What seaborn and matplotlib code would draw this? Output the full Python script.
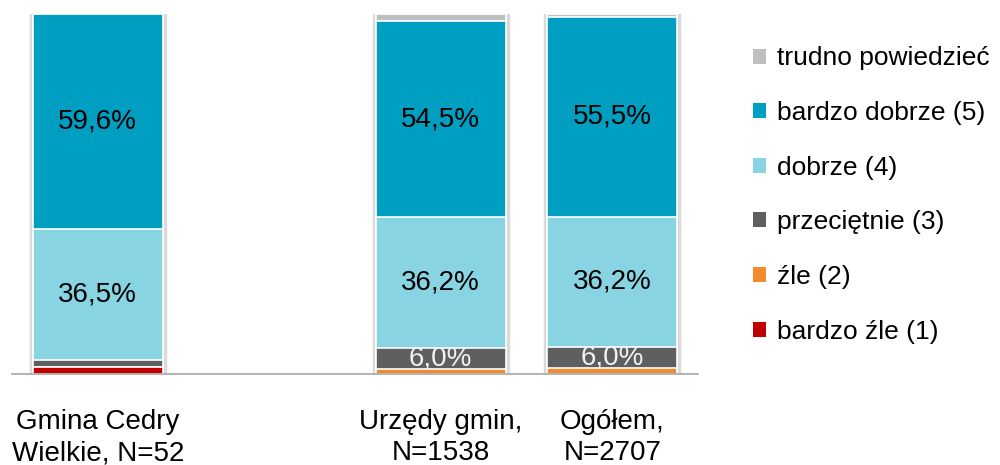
import matplotlib
matplotlib.use("Agg")
import matplotlib.pyplot as plt
from matplotlib.patches import Patch
import seaborn as sns
import pandas as pd
import numpy as np

categories = ["Gmina Cedry\nWielkie, N=52", "", "Urzędy gmin,\nN=1538", "Ogółem,\nN=2707"]
series_names = ["bardzo źle (1)", "źle (2)", "przeciętnie (3)", "dobrze (4)",
                "bardzo dobrze (5)", "trudno powiedzieć"]
bardzo_zle = [1.9, np.nan, 0.0, 0.0]
zle = [0.0, np.nan, 1.3, 1.5]
przecietnie = [1.9, np.nan, 6.0, 6.0]
dobrze = [36.5, np.nan, 36.2, 36.2]
bardzo_dobrze = [59.6, np.nan, 54.5, 55.5]
trudno = [0.0, np.nan, 2.0, 0.8]
colors = ["#C00000", "#F28A2E", "#5E5F61", "#88D4E2", "#009FC2", "#BFBFBF"]
text_colors = [None, None, "#F2F2F2", "black", "black", None]

sns.set_style("white")
plt.rcParams["font.family"] = ["Liberation Sans", "DejaVu Sans"]
plt.rcParams["text.color"] = "black"
plt.rcParams["xtick.color"] = "black"

fig = plt.figure(figsize=(10, 4.65), dpi=100)
ax = fig.add_axes([0.012, 0.196, 0.686, 0.774])

series = [bardzo_zle, zle, przecietnie, dobrze, bardzo_dobrze, trudno]
arr = np.array(series, dtype=float)
cum = np.cumsum(arr, axis=0)

# outer shadow
df_tot = pd.DataFrame({"cat": categories, "val": cum[-1]})
sns.barplot(data=df_tot, x="cat", y="val", order=categories, color="white",
            width=0.78, edgecolor="#DADADA", linewidth=2.5, ax=ax, saturation=1)

for i in range(len(series) - 1, -1, -1):
    df = pd.DataFrame({"cat": categories, "val": cum[i]})
    sns.barplot(data=df, x="cat", y="val", order=categories, color=colors[i],
                width=0.76, edgecolor="white", linewidth=1.2, ax=ax, saturation=1)

# value labels
for i, vals in enumerate(series):
    for j, v in enumerate(vals):
        if np.isnan(v) or v < 5:
            continue
        y = cum[i][j] - v / 2
        ax.text(j, y, f"{v:.1f}".replace(".", ",") + "%", ha="center", va="center",
                fontsize=20, color=text_colors[i])

ax.set_xlim(-0.5, 3.5)
ax.set_ylim(0, 100)
ax.set_xlabel("")
ax.set_ylabel("")
ax.set_yticks([])
for s in ["left", "right", "top"]:
    ax.spines[s].set_visible(False)
ax.spines["bottom"].set_color("#A6A6A6")
ax.spines["bottom"].set_linewidth(1.2)
ax.set_xticks(range(4))
ax.set_xticklabels(categories, fontsize=20, linespacing=1.28, color="black")
ax.tick_params(axis="x", which="major", length=0, pad=25)
ax.set_xticks(np.arange(-0.5, 4.0, 1.0), minor=True)
ax.tick_params(axis="x", which="minor", length=8, width=1.2, color="#A6A6A6", direction="out")
ax.patch.set_alpha(0)

handles = [Patch(facecolor=colors[i], edgecolor="none") for i in range(len(series) - 1, -1, -1)]
labels = [series_names[i] for i in range(len(series) - 1, -1, -1)]
fig.legend(handles, labels, loc="upper left", bbox_to_anchor=(0.753, 0.90),
           frameon=False, fontsize=19, handlelength=0.5, handleheight=0.5,
           handletextpad=0.42, labelspacing=1.16, borderpad=0, borderaxespad=0)

fig.savefig("out.png", dpi=100)
